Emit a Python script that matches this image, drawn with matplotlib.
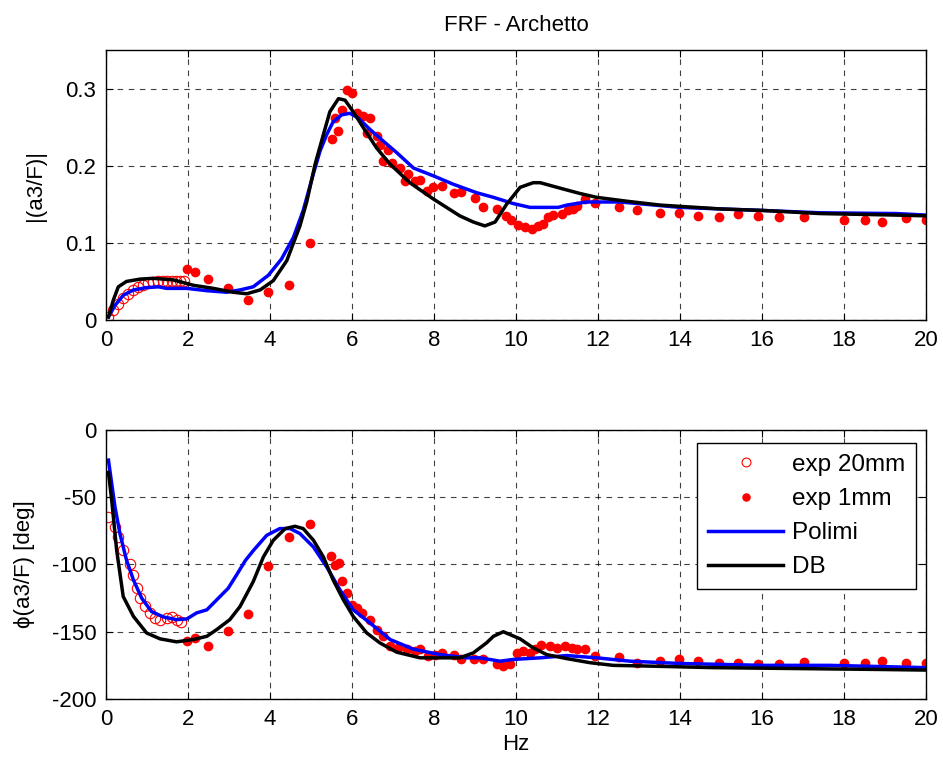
import matplotlib.pyplot as plt

plt.rcParams['font.family'] = ['Liberation Sans', 'DejaVu Sans']
plt.rcParams['axes.unicode_minus'] = False

# ---- magnitude |(a3/F)| ----
mag_e20_x = [0.05, 0.18, 0.3, 0.42, 0.54, 0.67, 0.79, 0.91, 1.03, 1.15, 1.27, 1.39,
             1.5, 1.6, 1.7, 1.8, 1.9]
mag_e20_y = [0.004, 0.013, 0.021, 0.028, 0.034, 0.039, 0.043, 0.046, 0.048, 0.049,
             0.05, 0.05, 0.05, 0.05, 0.05, 0.05, 0.05]

mag_e1_x = [1.97, 2.17, 2.48, 2.98, 3.46, 3.96, 4.47, 4.98, 5.5, 5.59, 5.67, 5.76, 5.87,
            5.99, 6.11, 6.28, 6.36, 6.44, 6.6, 6.68, 6.76, 6.87, 6.97, 7.17, 7.29, 7.37,
            7.54, 7.66, 7.82, 7.98, 8.19, 8.49, 8.67, 9.0, 9.19, 9.53, 9.76, 9.88, 10.04,
            10.22, 10.38, 10.54, 10.67, 10.79, 10.91, 11.11, 11.28, 11.4, 11.48, 11.68,
            11.93, 12.5, 12.96, 13.51, 13.98, 14.45, 14.95, 15.41, 15.91, 16.42, 17.02,
            18.0, 18.5, 18.92, 19.51, 20.0]
mag_e1_y = [0.066, 0.062, 0.053, 0.041, 0.026, 0.036, 0.045, 0.100, 0.235, 0.262, 0.245,
            0.272, 0.298, 0.294, 0.269, 0.265, 0.242, 0.262, 0.238, 0.227, 0.206, 0.22,
            0.204, 0.197, 0.18, 0.189, 0.18, 0.181, 0.167, 0.172, 0.174, 0.164, 0.166,
            0.158, 0.147, 0.144, 0.135, 0.13, 0.123, 0.12, 0.118, 0.122, 0.124, 0.133,
            0.136, 0.138, 0.142, 0.144, 0.148, 0.157, 0.152, 0.147, 0.142, 0.139, 0.139,
            0.135, 0.133, 0.137, 0.135, 0.133, 0.133, 0.13, 0.13, 0.127, 0.132, 0.13]

mag_pol_x = [0.06, 0.22, 0.42, 0.67, 0.99, 1.28, 1.48, 1.97, 2.46, 2.94, 3.27, 3.59, 3.96,
             4.28, 4.57, 4.81, 5.06, 5.22, 5.38, 5.54, 5.75, 5.95, 6.15, 6.44, 6.76, 7.09,
             7.5, 7.98, 8.47, 9.04, 9.45, 9.93, 10.34, 11.03, 11.24, 11.72, 12.54, 14.0,
             14.98, 16.03, 17.41, 19.28, 20.0]
mag_pol_y = [0.004, 0.019, 0.032, 0.039, 0.042, 0.043, 0.041, 0.041, 0.038, 0.036, 0.039,
             0.043, 0.058, 0.079, 0.107, 0.142, 0.19, 0.219, 0.24, 0.257, 0.266, 0.268,
             0.262, 0.247, 0.232, 0.217, 0.197, 0.187, 0.176, 0.165, 0.159, 0.151, 0.146,
             0.146, 0.149, 0.153, 0.153, 0.146, 0.144, 0.142, 0.139, 0.138, 0.136]

mag_db_x = [0.06, 0.18, 0.3, 0.5, 0.83, 1.15, 1.64, 2.13, 2.62, 3.1, 3.43, 3.76, 4.08,
            4.41, 4.73, 4.9, 5.1, 5.3, 5.46, 5.67, 5.83, 6.03, 6.28, 6.6, 6.93, 7.41, 7.98,
            8.63, 8.96, 9.24, 9.49, 9.77, 10.1, 10.42, 10.59, 11.07, 11.56, 11.97, 12.7,
            13.51, 14.98, 16.03, 17.41, 19.28, 20.0]
mag_db_y = [0.004, 0.026, 0.043, 0.05, 0.053, 0.054, 0.052, 0.045, 0.041, 0.036, 0.034,
            0.039, 0.051, 0.077, 0.122, 0.154, 0.202, 0.24, 0.27, 0.287, 0.285, 0.27,
            0.249, 0.223, 0.202, 0.178, 0.157, 0.135, 0.127, 0.122, 0.127, 0.15, 0.172,
            0.178, 0.178, 0.171, 0.164, 0.159, 0.154, 0.149, 0.144, 0.142, 0.138, 0.136,
            0.135]

# ---- phase phi(a3/F) ----
ph_e20_x = [0.06, 0.22, 0.3, 0.42, 0.59, 0.67, 0.75, 0.83, 0.95, 1.07, 1.2, 1.32, 1.48,
            1.6, 1.72, 1.84]
ph_e20_y = [-64.7, -72, -79.5, -89, -100, -108, -117.5, -125, -131, -136, -140, -141,
            -140, -139, -141, -143]

ph_e1_x = [1.98, 2.17, 2.48, 2.98, 3.46, 3.96, 4.47, 4.98, 5.49, 5.59, 5.68, 5.76, 5.87,
           5.99, 6.11, 6.24, 6.44, 6.6, 6.76, 6.93, 7.13, 7.33, 7.54, 7.66, 7.86, 8.02,
           8.19, 8.49, 8.67, 8.98, 9.19, 9.53, 9.69, 9.85, 10.02, 10.18, 10.34, 10.46,
           10.62, 10.83, 10.99, 11.2, 11.36, 11.48, 11.68, 11.93, 12.5, 12.96, 13.51,
           13.98, 14.45, 14.95, 15.41, 15.91, 16.42, 17.02, 18.0, 18.5, 18.92, 19.51, 20.0]
ph_e1_y = [-156.6, -155, -160.8, -149.7, -136.9, -101, -79.5, -69.7, -93.8, -100.4, -99.2,
           -112, -121.4, -130, -132.4, -136, -141, -148.4, -153.4, -160.8, -162, -163,
           -164.5, -163, -168, -167, -166, -167, -170.6, -170.6, -170.6, -174, -175.5,
           -174, -165.7, -164.5, -165.7, -163, -159.5, -160.8, -162, -160.3, -162, -163,
           -163, -168, -168.6, -173.6, -171.9, -170, -171.9, -173, -173, -174.3, -174.3,
           -172.6, -173.6, -173.6, -171.9, -173.6, -173.6]

ph_pol_x = [0.06, 0.14, 0.22, 0.34, 0.5, 0.67, 0.87, 1.11, 1.4, 1.72, 1.97, 2.21, 2.46,
            2.7, 2.98, 3.2, 3.4, 3.6, 3.92, 4.24, 4.49, 4.73, 5.06, 5.38, 5.71, 6.03,
            6.44, 6.93, 7.5, 8.15, 8.8, 9.12, 9.61, 9.93, 10.59, 11.24, 11.97, 12.78, 14.0,
            16.03, 17.66, 20.0]
ph_pol_y = [-22.4, -40, -57.4, -77, -96.7, -111.5, -125, -135, -139, -141, -140.5, -136,
            -133.7, -126.3, -117.7, -107, -97, -89.4, -78.3, -73.3, -73.3, -77, -87,
            -101.7, -119, -133.7, -143.5, -155.8, -163, -167, -169.4, -169.4, -171.9,
            -170.6, -169.4, -167.7, -169.4, -171.9, -173.6, -175, -175, -176.7]

ph_db_x = [0.06, 0.14, 0.26, 0.42, 0.67, 0.99, 1.32, 1.72, 2.13, 2.46, 2.7, 3.02, 3.27,
           3.59, 3.84, 4.08, 4.37, 4.61, 4.81, 5.06, 5.3, 5.54, 5.79, 6.03, 6.36, 6.68,
           7.09, 7.66, 8.31, 8.63, 8.96, 9.28, 9.45, 9.69, 10.1, 10.42, 10.75, 11.24,
           11.8, 12.37, 13.19, 14.81, 18.72, 20.0]
ph_db_y = [-31.5, -52.4, -89.4, -123.8, -138.6, -150.9, -155.3, -157.5, -155.8, -153.4,
           -148.4, -141, -131.2, -112.8, -94.3, -82, -73.3, -71.6, -73.3, -82, -94.3,
           -111.5, -126.3, -138.6, -150.9, -158.3, -165.2, -169.4, -169.4, -169.4, -165.7,
           -158.3, -153.4, -150, -155.3, -162, -167, -170, -173, -175, -175.5, -176.7,
           -178, -178.5]

xticks = list(range(0, 21, 2))
FS = 16

fig = plt.figure(figsize=(9.43, 7.65), dpi=100)
ax1 = fig.add_axes([0.1124, 0.5817, 0.8696, 0.3529])
ax2 = fig.add_axes([0.1124, 0.0863, 0.8696, 0.3516])


def style(ax):
    ax.set_xlim(0, 20)
    ax.set_xticks(xticks)
    ax.grid(True, color='black', linestyle=(0, (5, 5)), linewidth=0.8, alpha=0.75)
    ax.tick_params(direction='in', top=True, right=True, labelsize=FS, length=5, pad=7)
    for s in ax.spines.values():
        s.set_linewidth(1.0)


ax1.plot(mag_e20_x, mag_e20_y, 'o', mfc='none', mec='red', ms=7.5, mew=0.8)
ax1.plot(mag_e1_x, mag_e1_y, 'o', color='red', ms=6)
ax1.plot(mag_pol_x, mag_pol_y, '-', color='blue', lw=2.5)
ax1.plot(mag_db_x, mag_db_y, '-', color='black', lw=2.5)
style(ax1)
ax1.set_ylim(0, 0.35)
ax1.set_yticks([0, 0.1, 0.2, 0.3])
ax1.set_yticklabels(['0', '0.1', '0.2', '0.3'])
ax1.set_ylabel('|(a3/F)|', fontsize=FS, labelpad=14)
ax1.set_title('FRF - Archetto', fontsize=FS, pad=14)

ax2.plot(ph_e20_x, ph_e20_y, 'o', mfc='none', mec='red', ms=7.5, mew=0.8, label='exp 20mm')
ax2.plot(ph_e1_x, ph_e1_y, 'o', color='red', ms=6, label='exp 1mm')
ax2.plot(ph_pol_x, ph_pol_y, '-', color='blue', lw=2.5, label='Polimi')
ax2.plot(ph_db_x, ph_db_y, '-', color='black', lw=2.5, label='DB')
style(ax2)
ax2.set_ylim(-200, 0)
ax2.set_yticks([0, -50, -100, -150, -200])
ax2.set_ylabel('ϕ(a3/F) [deg]', fontsize=FS, labelpad=12)
ax2.set_xlabel('Hz', fontsize=FS, labelpad=3)
leg = ax2.legend(loc='upper right', bbox_to_anchor=(0.988, 0.952), borderaxespad=0,
                 fontsize=17.5, fancybox=False, edgecolor='black', framealpha=1,
                 handlelength=3.1, handletextpad=0.35, borderpad=0.45, labelspacing=0.5,
                 markerscale=0.85)
leg.get_frame().set_linewidth(1.0)

fig.savefig('out.png', dpi=100)
